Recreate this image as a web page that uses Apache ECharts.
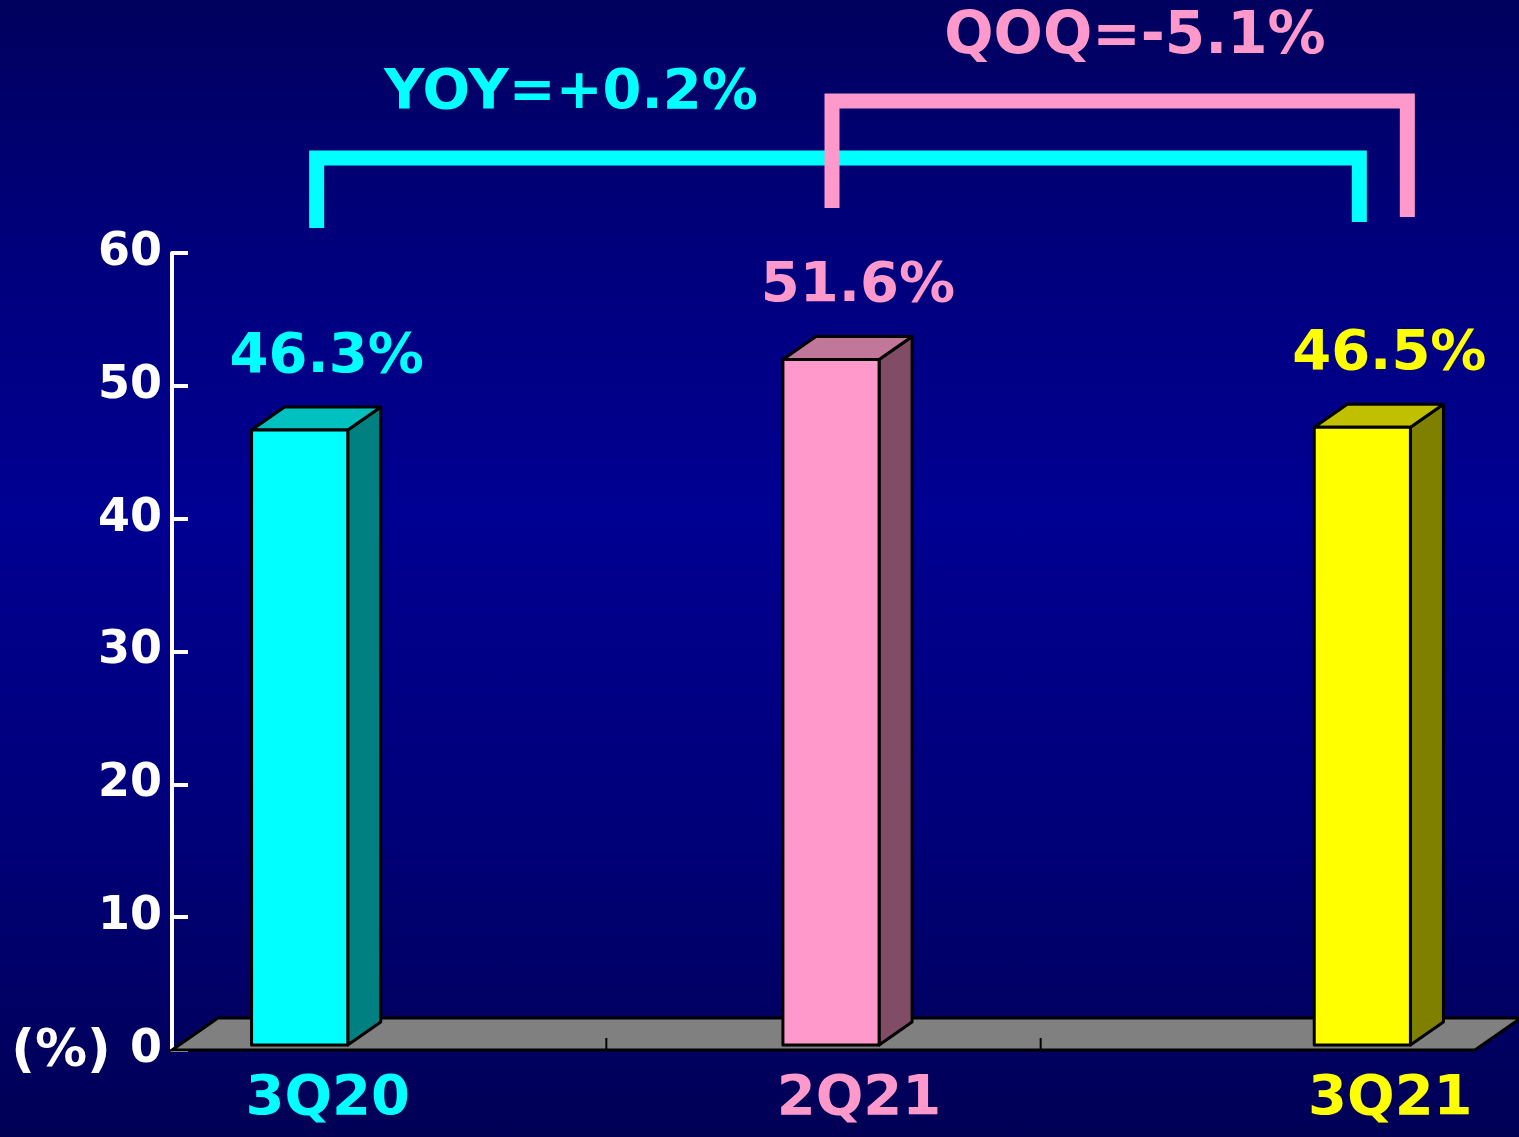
<!DOCTYPE html>
<html>
<head>
<meta charset="utf-8">
<title>Quarterly ratio</title>
<script src="https://cdn.jsdelivr.net/npm/echarts@6/dist/echarts.min.js"></script>
<style>
  html, body { margin: 0; padding: 0; }
  #chart {
    width: 1519px; height: 1137px;
    background: linear-gradient(to bottom, #00005e 0%, #00007c 22%, #000092 45%, #00007a 72%, #000055 100%);
  }
</style>
</head>
<body>
<div id="chart"></div>
<script>
// Quarters and their ratios (%)
const categories = ['3Q20', '2Q21', '3Q21'];
const values = [46.3, 51.6, 46.5];
const yTicks = [0, 10, 20, 30, 40, 50, 60];
const yoyText = 'YOY=+0.2%';
const qoqText = 'QOQ=-5.1%';

// Face colours per bar: front, top, side
const frontColors = ['#00ffff', '#ff99cc', '#ffff00'];
const topColors = ['#00c0c0', '#c07799', '#c0c000'];
const sideColors = ['#008080', '#804c66', '#808000'];
const FONT = 'DejaVu Sans';

const chart = echarts.init(document.getElementById('chart'), null, { renderer: 'canvas' });

// Bars: a front rectangle plus top and side faces for the box look
function renderBar(params, api) {
  const i = api.value(0);
  const v = api.value(1);
  const base = api.coord([i, 0]);
  const top = api.coord([i, v]);
  const band = api.size([1, 0])[0];
  const w = band * 0.181;
  const dx = 33, dy = -23;
  const x0 = base[0] - w / 2, x1 = base[0] + w / 2;
  const yb = base[1], yt = top[1];
  const stroke = { stroke: '#000', lineWidth: 3, lineJoin: 'round' };
  return {
    type: 'group',
    children: [
      { type: 'polygon', shape: { points: [[x1, yt], [x1 + dx, yt + dy], [x1 + dx, yb + dy], [x1, yb]] },
        style: Object.assign({ fill: sideColors[i] }, stroke) },
      { type: 'polygon', shape: { points: [[x0, yt], [x0 + dx, yt + dy], [x1 + dx, yt + dy], [x1, yt]] },
        style: Object.assign({ fill: topColors[i] }, stroke) },
      { type: 'rect', shape: { x: x0, y: yt, width: w, height: yb - yt },
        style: Object.assign({ fill: frontColors[i] }, stroke) },
      { type: 'text', x: base[0] + 27, y: yt - 73,
        style: { text: v.toFixed(1) + '%', fill: frontColors[i], font: 'bold 56px "' + FONT + '"',
                 align: 'center', verticalAlign: 'middle' } }
    ]
  };
}

// Grey floor slab under the bars, with category dividers on its front edge
function renderFloor(params, api) {
  const cs = params.coordSys;
  const yf = cs.y + cs.height;
  const ddx = 46, ddy = -32;
  const children = [
    { type: 'polygon',
      shape: { points: [[cs.x, yf], [cs.x + ddx, yf + ddy], [cs.x + cs.width + ddx, yf + ddy], [cs.x + cs.width, yf]] },
      style: { fill: '#808080', stroke: '#000', lineWidth: 3, lineJoin: 'miter' } }
  ];
  for (let k = 1; k < categories.length; k++) {
    const x = cs.x + cs.width * k / categories.length;
    children.push({ type: 'line', shape: { x1: x, y1: yf, x2: x, y2: yf - 12 },
      style: { stroke: '#000', lineWidth: 2 } });
  }
  return { type: 'group', children: children };
}

chart.setOption({
  backgroundColor: 'transparent',
  animation: false,
  grid: [
    { left: 172, right: 44, top: 253, bottom: 87, outerBoundsMode: 'none' },
    { left: 34, width: 1594, top: 248, bottom: 92, outerBoundsMode: 'none' }
  ],
  xAxis: [
    { type: 'category', gridIndex: 0, data: categories, show: false },
    { type: 'category', gridIndex: 1,
      data: categories.map((c, i) => ({ value: c, textStyle: { color: frontColors[i] } })),
      axisLine: { show: false }, axisTick: { show: false }, splitLine: { show: false },
      axisLabel: { fontFamily: FONT, fontSize: 56, fontWeight: 'bold', margin: 26, padding: [0, 0, 0, 56] } }
  ],
  yAxis: [
    { type: 'value', gridIndex: 0, min: yTicks[0], max: yTicks[yTicks.length - 1], interval: 10,
      axisLine: { show: true, lineStyle: { color: '#fff', width: 4 } },
      axisTick: { show: true, inside: true, length: 16, lineStyle: { color: '#fff', width: 4 } },
      splitLine: { show: false },
      axisLabel: { color: '#fff', fontFamily: FONT, fontSize: 46, fontWeight: 'bold', margin: 10 } },
    { type: 'value', gridIndex: 1, min: yTicks[0], max: yTicks[yTicks.length - 1], show: false }
  ],
  series: [
    { type: 'custom', xAxisIndex: 0, yAxisIndex: 0, renderItem: renderFloor, data: [[0, 0]], z: 1, silent: true },
    { type: 'custom', xAxisIndex: 1, yAxisIndex: 1, renderItem: renderBar,
      data: values.map((v, i) => [i, v]), z: 3, clip: false }
  ]
});

// Comparison brackets anchored on the bar positions
const px = categories.map((c, i) => chart.convertToPixel({ xAxisIndex: 1 }, i));
function bracket(xl, xr, yTop, yl, yr, color) {
  return { type: 'polyline', z: 10,
    shape: { points: [[xl, yl], [xl, yTop], [xr, yTop], [xr, yr]] },
    style: { stroke: color, fill: null, lineWidth: 15, lineJoin: 'miter', lineCap: 'butt' } };
}
chart.setOption({
  graphic: [
    bracket(px[0] + 17, px[2] - 3, 158, 228, 222, frontColors[0]),
    bracket(px[1] + 1, px[2] + 45, 101, 208, 217, frontColors[1]),
    { type: 'text', x: 571, y: 93, z: 10,
      style: { text: yoyText, fill: frontColors[0], font: 'bold 56px "' + FONT + '"', align: 'center', verticalAlign: 'middle' } },
    { type: 'text', x: 1135, y: 38, z: 10,
      style: { text: qoqText, fill: frontColors[1], font: 'bold 58px "' + FONT + '"', align: 'center', verticalAlign: 'middle' } },
    { type: 'text', x: 61, y: 1052, z: 10,
      style: { text: '(%)', fill: '#fff', font: 'bold 52px "' + FONT + '"', align: 'center', verticalAlign: 'middle' } }
  ]
});
</script>
</body>
</html>
